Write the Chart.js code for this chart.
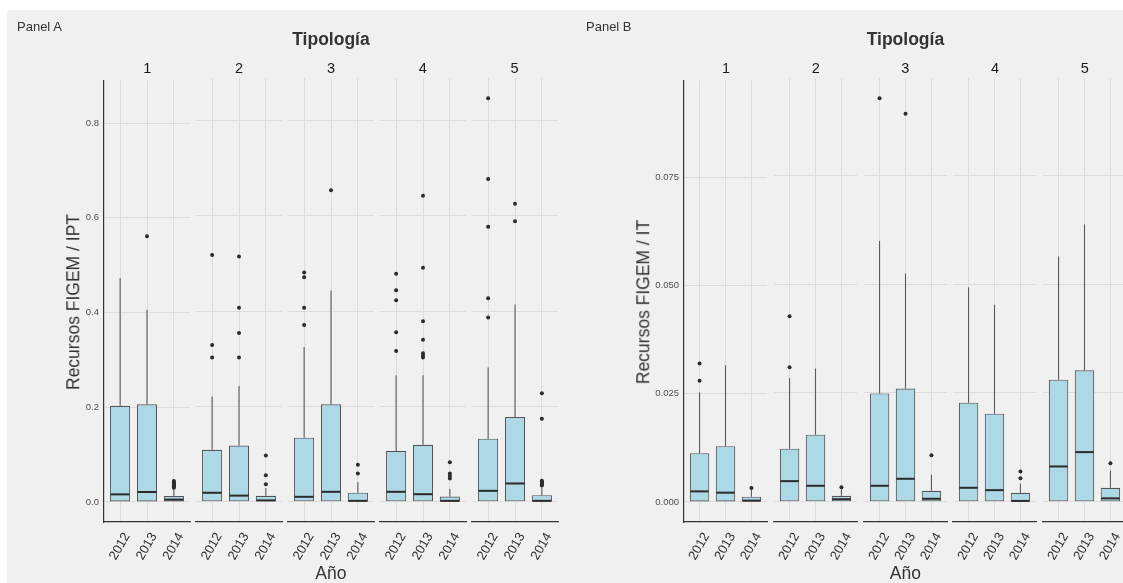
<!DOCTYPE html>
<html><head><meta charset="utf-8">
<script src="https://cdn.jsdelivr.net/npm/chart.js@4.4.1/dist/chart.umd.min.js"></script>
<style>
html,body{margin:0;padding:0;background:#fff;}
body{width:1123px;height:583px;overflow:hidden;position:relative;font-family:"Liberation Sans",Arial,sans-serif;}
#bg{position:absolute;left:7px;top:10px;right:0;bottom:0;background:#f0f0f0;}
canvas{position:absolute;}
.t{position:absolute;white-space:nowrap;color:#333;transform:translate(-50%,-50%);line-height:1;}
</style></head><body>
<div id="bg"></div>
<script>
// ---------------- DATA ----------------
const years = ['2012','2013','2014'];
const tipologias = ['1','2','3','4','5'];

const yTicksA = [0, 0.2, 0.4, 0.6, 0.8];
const yTickLabelsA = ['0.0','0.2','0.4','0.6','0.8'];
const yTicksB = [0, 0.025, 0.05, 0.075];
const yTickLabelsB = ['0.000','0.025','0.050','0.075'];

// Panel A: Recursos FIGEM / IPT  (rows = tipología 1..5, cols = 2012,2013,2014)
const whiskerLoA = [[0,0,0],[0,0,0],[0,0,0],[0,0,0],[0,0,0]];
const q1A        = [[0,0,0],[0,0,0],[0,0,0],[0,0,0],[0,0,0]];
const medianA    = [[0.016,0.021,0.005],[0.019,0.013,0.003],[0.0105,0.021,0.002],[0.021,0.016,0.002],[0.023,0.0385,0.002]];
const q3A        = [[0.203,0.206,0.0126],[0.109,0.118,0.0126],[0.1345,0.2045,0.019],[0.1064,0.1197,0.011],[0.1324,0.178,0.014]];
const whiskerHiA = [[0.473,0.406,0.028],[0.221,0.243,0.029],[0.325,0.4435,0.041],[0.2655,0.2655,0.027],[0.282,0.414,0.030]];
const outliersA  = [
  [[], [0.561], [0.030,0.032,0.034,0.036,0.038,0.040,0.042,0.044]],
  [[0.518,0.329,0.303], [0.515,0.407,0.354,0.303], [0.097,0.056,0.037]],
  [[0.481,0.471,0.407,0.371], [0.654], [0.078,0.0595]],
  [[0.4785,0.444,0.423,0.356,0.3166], [0.642,0.491,0.379,0.340,0.312,0.307,0.303], [0.083,0.0595,0.054,0.049]],
  [[0.847,0.6775,0.577,0.427,0.387], [0.6255,0.589], [0.2276,0.1745,0.044,0.042,0.040,0.038,0.036,0.034]]
];

// Panel B: Recursos FIGEM / IT
const whiskerLoB = [[0,0,0],[0,0,0],[0,0,0],[0,0,0],[0,0,0]];
const q1B        = [[0,0,0],[0,0,0],[0,0,0],[0,0,0],[0,0,0]];
const medianB    = [[0.00244,0.00214,0.0003],[0.00475,0.00368,0.0006],[0.00368,0.00529,0.0007],[0.00322,0.00268,0.0002],[0.00812,0.01142,0.0008]];
const q3B        = [[0.01127,0.01288,0.00122],[0.0122,0.0154,0.00138],[0.0249,0.0260,0.00253],[0.02277,0.02025,0.00207],[0.02806,0.0302,0.00322]];
const whiskerHiB = [[0.0253,0.0316,0.0028],[0.0284,0.0306,0.0029],[0.0599,0.05245,0.0062],[0.0493,0.04524,0.00414],[0.05636,0.0637,0.0072]];
const outliersB  = [
  [[0.0320,0.0280], [], [0.00322]],
  [[0.0426,0.0309], [], [0.00337]],
  [[0.0927], [0.0891], [0.01072]],
  [[], [], [0.00697,0.00544]],
  [[], [], [0.00888]]
];

// ---------------- LAYOUT ----------------
const PLOT_TOP = 78, PLOT_H = 444, PAD_T = 8, XAXIS_H = 50, PAD_SIDE = 16;

function addText(txt, x, y, style){
  const d = document.createElement('div');
  d.className = 't'; d.textContent = txt;
  d.style.left = x + 'px'; d.style.top = y + 'px';
  Object.assign(d.style, style || {});
  document.body.appendChild(d);
  return d;
}

function boxPlugin(st){
  return {
    id: 'boxparts',
    beforeDatasetsDraw(chart){
      const ctx = chart.ctx, x = chart.scales.x, y = chart.scales.y;
      ctx.save();
      ctx.strokeStyle = '#5a5a5a'; ctx.lineWidth = 1.1;
      st.q3.forEach((_, j) => {
        const px = x.getPixelForValue(j + 1);
        ctx.beginPath();
        ctx.moveTo(px, y.getPixelForValue(st.hi[j])); ctx.lineTo(px, y.getPixelForValue(st.q3[j]));
        if (st.q1[j] > st.lo[j]) { ctx.moveTo(px, y.getPixelForValue(st.q1[j])); ctx.lineTo(px, y.getPixelForValue(st.lo[j])); }
        ctx.stroke();
      });
      ctx.restore();
    },
    afterDatasetsDraw(chart){
      const ctx = chart.ctx, y = chart.scales.y;
      const meta = chart.getDatasetMeta(0);
      ctx.save();
      ctx.strokeStyle = '#2b2b2b'; ctx.lineWidth = 2;
      meta.data.forEach((el, j) => {
        const py = y.getPixelForValue(st.med[j]);
        const half = el.width / 2;
        ctx.beginPath(); ctx.moveTo(el.x - half + 0.5, py); ctx.lineTo(el.x + half - 0.5, py); ctx.stroke();
      });
      ctx.restore();
    }
  };
}

function makeFacet(facetLeft, facetW, showY, yAxisW, st, ymin, ymax, yTicks, yLabels){
  const leftExtra = PAD_SIDE + (showY ? yAxisW : 0);
  const cw = Math.round(leftExtra + facetW + PAD_SIDE);
  const ch = PAD_T + PLOT_H + XAXIS_H;
  const cv = document.createElement('canvas');
  cv.width = cw; cv.height = ch;
  cv.style.left = (facetLeft - leftExtra) + 'px';
  cv.style.top = (PLOT_TOP - PAD_T) + 'px';
  document.body.appendChild(cv);

  const boxData = years.map((yr, j) => ({ x: j + 1, y: [st.q1[j], st.q3[j]] }));
  const outData = [];
  st.out.forEach((arr, j) => arr.forEach(v => outData.push({ x: j + 1, y: v })));

  new Chart(cv, {
    type: 'bar',
    data: {
      datasets: [
        { type: 'bar', data: boxData, backgroundColor: '#add8e6', borderColor: '#555555', borderWidth: 1.1,
          borderSkipped: false, barPercentage: 0.75, categoryPercentage: 1, grouped: false, order: 2 },
        { type: 'scatter', data: outData, pointRadius: 2, pointBackgroundColor: '#2b2b2b', pointBorderWidth: 0,
          backgroundColor: '#2b2b2b', borderWidth: 0, showLine: false, order: 1, clip: false }
      ]
    },
    options: {
      responsive: false, animation: false, devicePixelRatio: 1, events: [],
      layout: { padding: { left: PAD_SIDE, right: PAD_SIDE, top: PAD_T, bottom: 0 } },
      plugins: { legend: { display: false }, tooltip: { enabled: false }, title: { display: false } },
      scales: {
        x: {
          type: 'linear', min: 0.4, max: 3.6, offset: false,
          afterBuildTicks: s => { s.ticks = years.map((_, j) => ({ value: j + 1 })); },
          afterFit: s => { s.height = XAXIS_H; s.paddingLeft = 0; s.paddingRight = 0; },
          ticks: { autoSkip: false, minRotation: 60, maxRotation: 60, padding: 8, labelOffset: 7,
                   callback: (v, i) => years[i], color: '#333333',
                   font: { family: '"Liberation Sans", Arial, sans-serif', size: 13 } },
          grid: { color: '#dcdcdc', lineWidth: 1, drawTicks: false, offset: false },
          border: { display: true, color: '#333333', width: 1.2 }
        },
        y: {
          min: ymin, max: ymax,
          afterBuildTicks: s => { s.ticks = yTicks.map(v => ({ value: v })); },
          afterFit: s => { s.width = showY ? yAxisW : 0; },
          ticks: { display: showY, padding: 5, callback: (v, i) => yLabels[i], color: '#4d4d4d',
                   font: { family: '"Liberation Sans", Arial, sans-serif', size: 9.5 } },
          grid: { color: '#dcdcdc', lineWidth: 1, drawTicks: false },
          border: { display: showY, color: '#333333', width: 1.2 }
        }
      }
    },
    plugins: [boxPlugin(st)]
  });
}

function dataMax(hi, out){
  let m = 0;
  hi.forEach(r => r.forEach(v => { if (v > m) m = v; }));
  out.forEach(r => r.forEach(a => a.forEach(v => { if (v > m) m = v; })));
  return m;
}

function makePanel(p){
  const m = dataMax(p.hi, p.out);
  const ymin = -0.05 * m, ymax = 1.05 * m;
  tipologias.forEach((tp, i) => {
    const left = p.firstLeft + i * p.step;
    const st = { lo: p.lo[i], q1: p.q1[i], med: p.med[i], q3: p.q3[i], hi: p.hi[i], out: p.out[i] };
    makeFacet(left, p.facetW, i === 0, p.yAxisW, st, ymin, ymax, p.yTicks, p.yLabels);
    addText(tp, left + p.facetW / 2, 68, { fontSize: '14.5px', color: '#1a1a1a' });
  });
  const mid = p.firstLeft + 2 * p.step + p.facetW / 2;
  addText('Tipología', mid, 40, { fontSize: '17.5px', fontWeight: 'bold' });
  addText('Año', mid, 574, { fontSize: '17.5px' });
  addText(p.yTitle, p.yTitleX, PLOT_TOP + PLOT_H / 2 + 2, { fontSize: '17.5px', transform: 'translate(-50%,-50%) rotate(-90deg)' });
  addText(p.label, p.labelX, 26, { fontSize: '13px', transform: 'translate(0,-50%)' });
}

makePanel({ label: 'Panel A', labelX: 17, yTitle: 'Recursos FIGEM / IPT', yTitleX: 74,
  firstLeft: 104.3, step: 91.85, facetW: 85.9, yAxisW: 40,
  lo: whiskerLoA, q1: q1A, med: medianA, q3: q3A, hi: whiskerHiA, out: outliersA,
  yTicks: yTicksA, yLabels: yTickLabelsA });
makePanel({ label: 'Panel B', labelX: 586, yTitle: 'Recursos FIGEM / IT', yTitleX: 644,
  firstLeft: 684.3, step: 89.7, facetW: 83.4, yAxisW: 45,
  lo: whiskerLoB, q1: q1B, med: medianB, q3: q3B, hi: whiskerHiB, out: outliersB,
  yTicks: yTicksB, yLabels: yTickLabelsB });
</script>
</body></html>
